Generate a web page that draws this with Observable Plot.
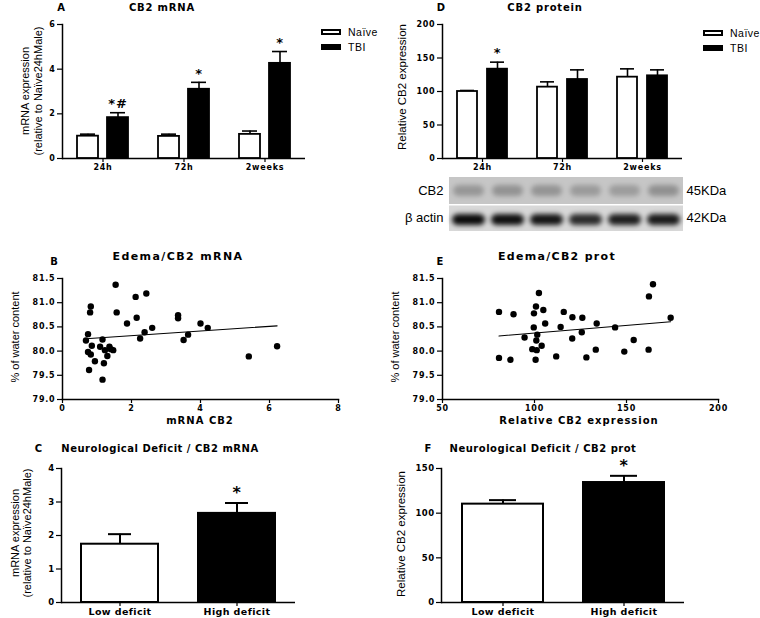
<!DOCTYPE html>
<html>
<head>
<meta charset="utf-8">
<script src="https://cdn.jsdelivr.net/npm/d3@7"></script>
<script src="https://cdn.jsdelivr.net/npm/@observablehq/plot@0.6"></script>
<style>
  body { margin: 0; background: #fff; }
  #fig { position: relative; width: 760px; height: 618px; overflow: hidden; background: #fff;
         font-family: "Liberation Sans", Arial, sans-serif; color: #000; }
  .t { position: absolute; white-space: nowrap; line-height: 1; }
  .ttl { font-family: "DejaVu Sans", sans-serif; font-weight: bold; }
  .ylab { font-family: "Liberation Sans", Arial, sans-serif; font-size: 11px; }
</style>
</head>
<body>
<div id="fig"></div>
<script>
// ---------------- data ----------------
const timepoints = ["24h", "72h", "2weeks"];
const groups = ["Naïve", "TBI"];

// A: CB2 mRNA (relative to Naïve24hMale)
const mrnaNaive = [1.00, 0.99, 1.08];
const mrnaNaiveErr = [0.09, 0.10, 0.15];
const mrnaTBI = [1.83, 3.10, 4.26];
const mrnaTBIErr = [0.22, 0.31, 0.53];
const mrnaNaiveMarks = ["", "", ""];
const mrnaTBIMarks = ["*#", "*", "*"];
const mrnaTicks = [0, 2, 4, 6];

// D: CB2 protein (relative expression)
const protNaive = [100.0, 106.5, 121.4];
const protNaiveErr = [1.5, 7.9, 12.4];
const protTBI = [133.3, 117.9, 123.4];
const protTBIErr = [10.5, 14.4, 8.9];
const protNaiveMarks = ["", "", ""];
const protTBIMarks = ["*", "", ""];
const protTicks = [0, 50, 100, 150, 200];

// Western blot (D)
const lanes = [1, 2, 3, 4, 5, 6];
const blotRows = ["CB2", "β actin"];
const blotKDa = ["45KDa", "42KDa"];
const cb2Intensity = [0.24, 0.26, 0.25, 0.22, 0.21, 0.27];
const actinIntensity = [0.95, 0.93, 0.90, 0.80, 0.86, 0.88];

// B: Edema / CB2 mRNA
const edemaMrnaX = [1.54, 2.43, 2.12, 0.82, 0.80, 1.57, 2.15, 1.87, 3.35, 3.35, 4.00, 4.21, 2.60, 2.38, 0.74, 3.64, 3.51, 2.25, 0.68, 1.16, 0.85, 1.09, 1.36, 1.40, 1.23, 1.47, 0.74, 0.82, 1.30, 0.94, 1.20, 0.77, 1.16, 5.40, 6.22];
const edemaMrnaY = [81.37, 81.19, 81.12, 80.92, 80.80, 80.80, 80.69, 80.57, 80.74, 80.68, 80.57, 80.48, 80.48, 80.39, 80.35, 80.34, 80.23, 80.26, 80.22, 80.24, 80.11, 80.09, 80.09, 80.04, 80.02, 80.02, 79.98, 79.93, 79.90, 79.79, 79.75, 79.61, 79.41, 79.89, 80.10];
const mrnaCB2Ticks = [0, 2, 4, 6, 8];

// E: Edema / CB2 protein
const edemaProtX = [164.4, 162.2, 102.4, 100.8, 99.7, 104.8, 80.7, 88.6, 115.9, 120.6, 126.0, 133.8, 105.8, 99.6, 114.2, 143.8, 174.0, 101.5, 94.6, 125.7, 120.5, 101.0, 153.9, 103.9, 98.8, 101.2, 133.3, 162.0, 148.8, 111.8, 128.2, 80.7, 86.9, 100.6];
const edemaProtY = [81.38, 81.13, 81.20, 80.92, 80.78, 80.85, 80.81, 80.76, 80.81, 80.70, 80.69, 80.57, 80.57, 80.49, 80.50, 80.49, 80.69, 80.34, 80.28, 80.39, 80.26, 80.22, 80.23, 80.11, 80.04, 80.02, 80.03, 80.03, 79.99, 79.89, 79.87, 79.86, 79.82, 79.82];
const protCB2Ticks = [50, 100, 150, 200];
const waterTicks = [79.0, 79.5, 80.0, 80.5, 81.0, 81.5];

// C / F: neurological deficit
const deficitGroups = ["Low deficit", "High deficit"];
const deficitMrna = [1.74, 2.66];
const deficitMrnaErr = [0.30, 0.31];
const deficitMrnaMarks = ["", "*"];
const deficitMrnaTicks = [0, 1, 2, 3, 4];
const deficitProt = [110.1, 134.3];
const deficitProtErr = [4.5, 7.5];
const deficitProtMarks = ["", "*"];
const deficitProtTicks = [0, 50, 100, 150];

// ---------------- helpers ----------------
const fig = document.getElementById("fig");
const tickStyle = { fontFamily: "DejaVu Sans", fontWeight: "bold", fontSize: "8px",
  letterSpacing: "0.8px", background: "transparent", overflow: "visible" };
const intFmt = d3.format("d");

function place(el, left, top) {
  el.style.position = "absolute";
  el.style.left = left + "px";
  el.style.top = top + "px";
  fig.appendChild(el);
  return el;
}
function txt(str, cx, cy, cls, css = {}, rotate = false) {
  const d = document.createElement("div");
  d.className = "t " + cls;
  d.textContent = str;
  d.style.left = cx + "px";
  d.style.top = cy + "px";
  d.style.transform = "translate(-50%,-50%)" + (rotate ? " rotate(-90deg)" : "");
  Object.assign(d.style, css);
  fig.appendChild(d);
  return d;
}

function groupedRows(vals0, errs0, marks0, vals1, errs1, marks1) {
  return timepoints.flatMap((t, i) => [
    { time: t, group: groups[0], value: vals0[i], err: errs0[i], mark: marks0[i] },
    { time: t, group: groups[1], value: vals1[i], err: errs1[i], mark: marks1[i] }
  ]);
}

function groupedBars(rows, o) {
  const marks = [];
  for (const g of groups) {
    const d = rows.filter(r => r.group === g);
    const left = g === groups[0];
    const barIns = left ? { insetLeft: 15, insetRight: 45 } : { insetLeft: 45, insetRight: 15 };
    const capIns = left ? { insetLeft: 18, insetRight: 48 } : { insetLeft: 48, insetRight: 18 };
    const dx = left ? -15 : 15;
    marks.push(
      Plot.ruleX(d, { x: "time", y1: "value", y2: r => r.value + r.err, dx, strokeWidth: 1.6 }),
      Plot.tickY(d, { x: "time", y: r => r.value + r.err, ...capIns, strokeWidth: 1.6 }),
      Plot.barY(d, { x: "time", y: "value", fill: left ? "white" : "black", stroke: "black", strokeWidth: 1.8, ...barIns }),
      Plot.text(d, { x: "time", y: r => r.value + r.err, text: "mark", dx, dy: -9, fontSize: 13 })
    );
  }
  return Plot.plot({
    width: 310, height: 175, marginLeft: 62, marginRight: o.marginRight, marginTop: 24, marginBottom: 17,
    style: tickStyle,
    x: { type: "band", domain: timepoints, padding: 0, label: null },
    y: { domain: o.yDomain, label: null },
    marks: [
      Plot.frame({ anchor: "left", strokeWidth: 1.5 }),
      Plot.ruleY([0], { strokeWidth: 1.5 }),
      Plot.axisX({ tickSize: 4, tickPadding: 2, strokeWidth: 1.2, label: null }),
      Plot.axisY({ ticks: o.yTicks, tickFormat: intFmt, tickSize: 5, tickPadding: 2, strokeWidth: 1.2, label: null }),
      ...marks
    ]
  });
}

function scatter(xs, ys, o) {
  const data = xs.map((x, i) => ({ x, y: ys[i] }));
  return Plot.plot({
    width: 350, height: 180, marginLeft: 62, marginRight: 12, marginTop: 38, marginBottom: 21,
    style: tickStyle,
    x: { domain: o.xDomain, label: null },
    y: { domain: [waterTicks[0], waterTicks[waterTicks.length - 1]], label: null },
    marks: [
      Plot.frame({ anchor: "left", strokeWidth: 1.5 }),
      Plot.frame({ anchor: "bottom", strokeWidth: 1.5 }),
      Plot.axisX({ ticks: o.xTicks, tickFormat: intFmt, tickSize: 4, tickPadding: 2, strokeWidth: 1.2, label: null }),
      Plot.axisY({ ticks: waterTicks, tickFormat: d3.format(".1f"), tickSize: 5, tickPadding: 2, strokeWidth: 1.2, label: null }),
      Plot.linearRegressionY(data, { x: "x", y: "y", ci: 0, stroke: "black", strokeWidth: 1.1 }),
      Plot.dot(data, { x: "x", y: "y", r: 3.2, fill: "black" })
    ]
  });
}

function deficitBars(vals, errs, marksTxt, o) {
  const rows = deficitGroups.map((g, i) => ({ group: g, value: vals[i], err: errs[i], mark: marksTxt[i] }));
  return Plot.plot({
    width: 310, height: 178, marginLeft: 61, marginRight: o.marginRight, marginTop: 28, marginBottom: 16,
    style: { ...tickStyle, fontSize: "8.5px", letterSpacing: "0.4px" },
    x: { type: "band", domain: deficitGroups, padding: 0, label: null },
    y: { domain: o.yDomain, label: null },
    color: { domain: deficitGroups, range: ["white", "black"] },
    marks: [
      Plot.frame({ anchor: "left", strokeWidth: 1.5 }),
      Plot.ruleY([0], { strokeWidth: 1.5 }),
      Plot.axisX({ tickSize: 4, tickPadding: 2, strokeWidth: 1.2, fontSize: 9.5, label: null }),
      Plot.axisY({ ticks: o.yTicks, tickFormat: intFmt, tickSize: 5, tickPadding: 2, strokeWidth: 1.2, label: null }),
      Plot.ruleX(rows, { x: "group", y1: "value", y2: r => r.value + r.err, strokeWidth: 2 }),
      Plot.tickY(rows, { x: "group", y: r => r.value + r.err, insetLeft: 47, insetRight: 47, strokeWidth: 2 }),
      Plot.barY(rows, { x: "group", y: "value", fill: "group", stroke: "black", strokeWidth: 2, insetLeft: 20, insetRight: 20 }),
      Plot.text(rows, { x: "group", y: r => r.value + r.err, text: "mark", dy: -10, fontSize: 16 })
    ]
  });
}

function legend(left, top) {
  groups.forEach((g, i) => {
    const box = document.createElement("div");
    Object.assign(box.style, { width: "20px", height: "6px", boxSizing: "border-box",
      border: "2px solid #000", background: i === 0 ? "#fff" : "#000" });
    place(box, left, top + 15 * i);
    const lab = txt(g, 0, 0, "", { fontSize: "10.5px", letterSpacing: "0.5px", transform: "translate(0,-50%)" });
    lab.style.left = (left + 27) + "px";
    lab.style.top = (top + 3 + 15 * i) + "px";
  });
}

// ---------------- panel A ----------------
place(groupedBars(groupedRows(mrnaNaive, mrnaNaiveErr, mrnaNaiveMarks, mrnaTBI, mrnaTBIErr, mrnaTBIMarks),
  { yDomain: [0, 6], yTicks: mrnaTicks, marginRight: 5 }), 0, 0);
txt("A", 61, 8, "ttl", { fontSize: "10px" });
txt("CB2 mRNA", 162, 8, "ttl", { fontSize: "10px", letterSpacing: "0.8px" });
txt("mRNA expression", 25, 91, "ylab", {}, true);
txt("(relative to Naïve24hMale)", 38, 91, "ylab", {}, true);
legend(321, 29);

// ---------------- panel D ----------------
place(groupedBars(groupedRows(protNaive, protNaiveErr, protNaiveMarks, protTBI, protTBIErr, protTBIMarks),
  { yDomain: [0, 200], yTicks: protTicks, marginRight: 8 }), 380, 0);
txt("D", 441, 8, "ttl", { fontSize: "10px" });
txt("CB2 protein", 545, 8, "ttl", { fontSize: "10px", letterSpacing: "0.8px" });
txt("Relative CB2 expression", 403, 87, "ylab", { fontSize: "11.5px" }, true);
legend(703, 30);

// ---------------- western blot ----------------
{
  const cells = blotRows.flatMap((row, r) => lanes.map((lane, i) => ({
    row, lane, intensity: r === 0 ? cb2Intensity[i] : actinIntensity[i]
  })));
  const cb2 = cells.filter(c => c.row === blotRows[0]);
  const actin = cells.filter(c => c.row === blotRows[1]);
  const blot = Plot.plot({
    width: 360, height: 68, marginLeft: 68, marginRight: 57, marginTop: 8, marginBottom: 5,
    style: { fontFamily: "Liberation Sans", fontSize: "13px", background: "transparent", overflow: "visible" },
    x: { type: "band", domain: lanes, padding: 0, axis: null },
    y: { type: "band", domain: blotRows, padding: 0, label: null },
    opacity: { type: "identity" },
    marks: [
      Plot.cell(cb2, { x: "lane", y: "row", fill: "#c6c6c6" }),
      Plot.cell(actin, { x: "lane", y: "row", fill: "#d8d8d8", insetTop: 1.5 }),
      Plot.cell(cb2, { x: "lane", y: "row", fill: "black", fillOpacity: "intensity",
        insetLeft: 4, insetRight: 4, insetTop: 8, insetBottom: 8, rx: 6 }),
      Plot.cell(actin, { x: "lane", y: "row", fill: "black", fillOpacity: "intensity",
        insetLeft: 3, insetRight: 3, insetTop: 10, insetBottom: 6, rx: 6 }),
      Plot.axisY({ anchor: "left", tickSize: 0, tickPadding: 5, label: null }),
      Plot.axisY({ anchor: "right", tickSize: 0, tickPadding: 3, label: null,
        tickFormat: r => blotKDa[blotRows.indexOf(r)] })
    ]
  });
  const svg = d3.select(blot);
  const f = svg.append("defs").append("filter").attr("id", "blotblur")
    .attr("x", "-40%").attr("y", "-150%").attr("width", "180%").attr("height", "400%");
  f.append("feGaussianBlur").attr("stdDeviation", 2.8);
  const cellGroups = blot.querySelectorAll('g[aria-label="cell"]');
  if (cellGroups[2]) cellGroups[2].setAttribute("filter", "url(#blotblur)");
  if (cellGroups[3]) cellGroups[3].setAttribute("filter", "url(#blotblur)");
  place(blot, 380, 168);
}

// ---------------- panel B ----------------
place(scatter(edemaMrnaX, edemaMrnaY, { xDomain: [0, 8], xTicks: mrnaCB2Ticks }), 0, 240);
txt("B", 54, 262, "ttl", { fontSize: "10px" });
txt("Edema/CB2 mRNA", 178, 256, "ttl", { fontSize: "11px", letterSpacing: "1.4px" });
txt("% of water content", 15, 337, "ylab", {}, true);
txt("mRNA CB2", 200, 421, "ttl", { fontSize: "10px", letterSpacing: "1px" });

// ---------------- panel E ----------------
place(scatter(edemaProtX, edemaProtY, { xDomain: [50, 200], xTicks: protCB2Ticks }), 380, 240);
txt("E", 440, 262, "ttl", { fontSize: "10px" });
txt("Edema/CB2 prot", 557, 256, "ttl", { fontSize: "11px", letterSpacing: "1.3px" });
txt("% of water content", 395, 337, "ylab", {}, true);
txt("Relative CB2 expression", 579, 421, "ttl", { fontSize: "10px", letterSpacing: "1px" });

// ---------------- panel C ----------------
place(deficitBars(deficitMrna, deficitMrnaErr, deficitMrnaMarks,
  { yDomain: [0, 4], yTicks: deficitMrnaTicks, marginRight: 15 }), 0, 440);
txt("C", 38.5, 449, "ttl", { fontSize: "10px" });
txt("Neurological Deficit / CB2 mRNA", 160, 449, "ttl", { fontSize: "10px", letterSpacing: "0.5px" });
txt("mRNA expression", 15, 533, "ylab", {}, true);
txt("(relative to Naïve24hMale)", 27, 533, "ylab", {}, true);

// ---------------- panel F ----------------
place(deficitBars(deficitProt, deficitProtErr, deficitProtMarks,
  { yDomain: [0, 150], yTicks: deficitProtTicks, marginRight: 6 }), 380, 440);
txt("F", 428, 449, "ttl", { fontSize: "10px" });
txt("Neurological Deficit / CB2 prot", 543, 449, "ttl", { fontSize: "10px", letterSpacing: "0.5px" });
txt("Relative CB2 expression", 402, 534, "ylab", { fontSize: "11.5px" }, true);
</script>
</body>
</html>
